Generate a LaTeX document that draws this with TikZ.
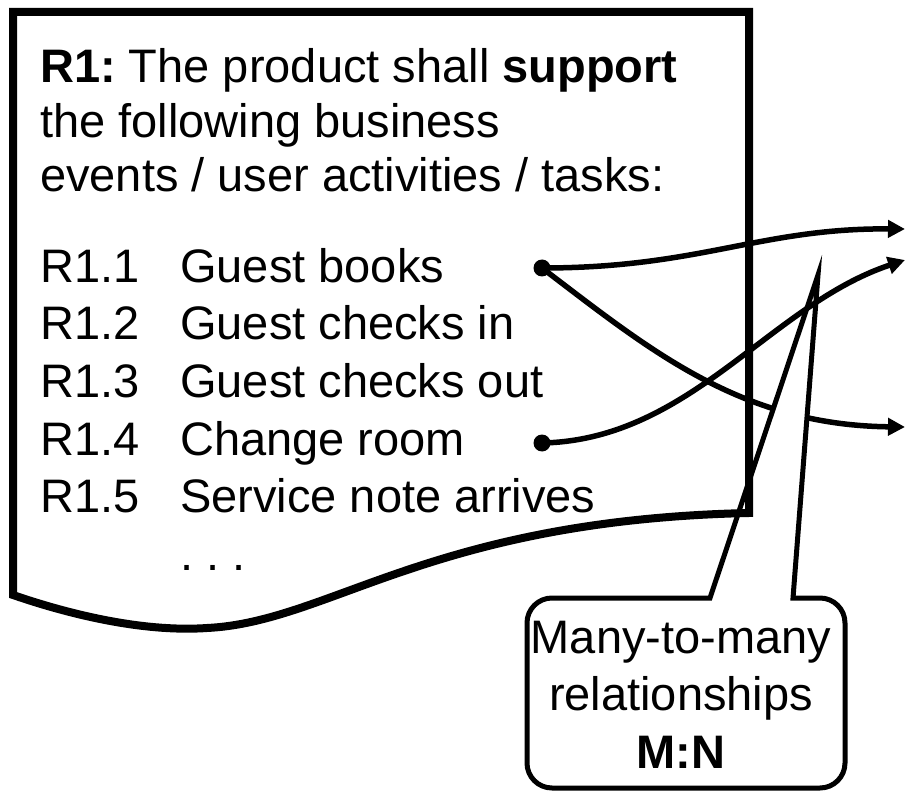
\documentclass[tikz,border=0pt]{standalone}
\usepackage{fontspec}
\setmainfont{Liberation Sans}
\usetikzlibrary{arrows.meta}
\frenchspacing
\begin{document}
\begin{tikzpicture}[x=1pt,y=1pt,
  txt/.style={anchor=base west, inner sep=0pt, font=\fontsize{47}{57}\selectfont},
  ctxt/.style={anchor=base, inner sep=0pt, font=\fontsize{47}{57}\selectfont},
  boxline/.style={line width=8pt},
  conn/.style={line width=5.5pt, -{Triangle[length=17pt,width=17pt]}},
  dotnode/.style={circle, fill=black, inner sep=0pt, minimum size=17pt},
  callout/.style={line width=5pt, fill=white, line join=miter}]
\useasboundingbox (0,0) rectangle (907,-791);

% header text
\node[txt] (h1) at (40,-83) {\textbf{R1:} The product shall \textbf{support}};
\node[txt] (h2) at (40,-138) {the following business};
\node[txt] (h3) at (40,-192) {events / user activities / tasks:};

% requirement list
\node[txt] (l1) at (40,-283) {R1.1};
\node[txt] (l2) at (40,-340) {R1.2};
\node[txt] (l3) at (40,-397) {R1.3};
\node[txt] (l4) at (40,-455) {R1.4};
\node[txt] (l5) at (40,-512) {R1.5};
\node[txt] (e1) at (180,-283) {Guest books};
\node[txt] (e2) at (180,-340) {Guest checks in};
\node[txt] (e3) at (180,-397) {Guest checks out};
\node[txt] (e4) at (180,-455) {Change room};
\node[txt] (e5) at (180,-512) {Service note arrives};
\node[txt] (e6) at (180,-570) {. . .};

% dots and arrow ends
\node[dotnode] (d1) at (542,-268) {};
\node[dotnode] (d4) at (542,-443) {};
\coordinate (a1) at (905,-229);
\coordinate (a2) at (905,-260);
\coordinate (a3) at (905,-427);

\draw[conn] (d1.center) .. controls (700,-268) and (760,-228) .. (a1);
\draw[conn] (d1.center) .. controls (650,-350) and (740,-425) .. (a3);

% callout
\coordinate (tip) at (818,-275);
\draw[callout] (710,-598) -- (tip) -- (793,-598) -- (820,-598)
  arc[start angle=90, end angle=0, radius=25] -- (845,-763)
  arc[start angle=0, end angle=-90, radius=25] -- (552,-788)
  arc[start angle=270, end angle=180, radius=25] -- (527,-623)
  arc[start angle=180, end angle=90, radius=25] -- cycle;
\node[ctxt] (c1) at (681,-653) {Many-to-many};
\node[ctxt] (c2) at (681,-710) {relationships};
\node[ctxt] (c3) at (681,-768) {\textbf{M:N}};

\draw[conn] (d4.center) .. controls (690,-440) and (770,-305) .. (a2);

% document box
\draw[boxline] (13,-12) -- (749,-12) -- (749,-513)
  .. controls (430,-520) and (330,-622) .. (207,-628)
  .. controls (150,-632) and (80,-618) .. (13,-595) -- cycle;
\end{tikzpicture}
\end{document}
